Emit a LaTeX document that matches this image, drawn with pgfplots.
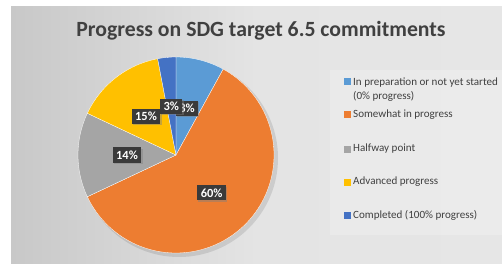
\documentclass[border=0pt]{standalone}
\usepackage{pgfplots}
\pgfplotsset{compat=1.18}
\usepackage{fontspec}
\setmainfont{Carlito}
\usetikzlibrary{shadows}
\definecolor{cA}{HTML}{5B9BD5}
\definecolor{cB}{HTML}{ED7D31}
\definecolor{cC}{HTML}{A5A5A5}
\definecolor{cD}{HTML}{FFC000}
\definecolor{cE}{HTML}{4472C4}
\definecolor{bgL}{HTML}{C8C8C8}
\definecolor{bgM}{HTML}{E4E4E4}
\definecolor{bgR}{HTML}{E6E6E6}
\definecolor{txt}{HTML}{404040}
\definecolor{lblbg}{HTML}{3A3A3A}
\tikzset{
  lbl/.style={fill=lblbg, text=white, font=\bfseries\fontsize{12.5}{14}\selectfont,
    inner xsep=3.5bp, inner ysep=3.2bp,
    drop shadow={shadow xshift=1.2bp, shadow yshift=-1.2bp, opacity=0.45}},
  leg/.style={text=txt, font=\fontsize{11.1}{13}\selectfont, anchor=west, inner sep=0pt},
}
\begin{document}
\begin{tikzpicture}[x=1bp,y=1bp]
\useasboundingbox (0,0) rectangle (502,263);
% data (percent)
\def\vA{8}\def\vB{60}\def\vC{14}\def\vD{15}\def\vE{3}
\pgfmathsetmacro{\aA}{90-3.6*\vA}
\pgfmathsetmacro{\aB}{\aA-3.6*\vB}
\pgfmathsetmacro{\aC}{\aB-3.6*\vC}
\pgfmathsetmacro{\aD}{\aC-3.6*\vD}
\pgfmathsetmacro{\aE}{\aD-3.6*\vE}
\pgfmathsetmacro{\mA}{(90+\aA)/2}
\pgfmathsetmacro{\mB}{(\aA+\aB)/2}
\pgfmathsetmacro{\mC}{(\aB+\aC)/2}
\pgfmathsetmacro{\mD}{(\aC+\aD)/2}
\pgfmathsetmacro{\mE}{(\aD+\aE)/2}
\fill[white] (0,0) rectangle (502,263);
\shade[left color=bgL, right color=bgR, middle color=bgM] (11,0) rectangle (502,256);
\fill[white, opacity=0.22] (330,28) rectangle (502,193);
\begin{axis}[
  at={(0,0)}, anchor=south west,
  scale only axis, width=502bp, height=263bp,
  xmin=0, xmax=502, ymin=0, ymax=263,
  hide axis, clip=false,
]
\fill[black, opacity=0.10] (axis cs:179,105) circle[radius=99];
\addplot[fill=cA, draw=white, line width=0.3pt, domain=\aA:90, samples=20, variable=\t]
  ({176+98*cos(\t)},{108+98*sin(\t)}) -- (axis cs:176,108) -- cycle;
\addplot[fill=cB, draw=white, line width=0.3pt, domain=\aB:\aA, samples=90, variable=\t]
  ({176+98*cos(\t)},{108+98*sin(\t)}) -- (axis cs:176,108) -- cycle;
\addplot[fill=cC, draw=white, line width=0.3pt, domain=\aC:\aB, samples=25, variable=\t]
  ({176+98*cos(\t)},{108+98*sin(\t)}) -- (axis cs:176,108) -- cycle;
\addplot[fill=cD, draw=white, line width=0.3pt, domain=\aD:\aC, samples=25, variable=\t]
  ({176+98*cos(\t)},{108+98*sin(\t)}) -- (axis cs:176,108) -- cycle;
\addplot[fill=cE, draw=white, line width=0.3pt, domain=\aE:\aD, samples=10, variable=\t]
  ({176+98*cos(\t)},{108+98*sin(\t)}) -- (axis cs:176,108) -- cycle;
% labels
\node[lbl] at (axis cs:{176+44*cos(\mA)},{108+48*sin(\mA)}) {\vA\%};
\node[lbl] at (axis cs:{176+52*cos(\mB)},{108+52*sin(\mB)}) {\vB\%};
\node[lbl] at (axis cs:{176+49*cos(\mC)},{108+49*sin(\mC)}) {\vC\%};
\node[lbl] at (axis cs:{176+49*cos(\mD)},{108+49*sin(\mD)}) {\vD\%};
\node[lbl] at (axis cs:{176+50*cos(\mE)},{108+49*sin(\mE)}) {\vE\%};
% title
\node[text=txt, font=\bfseries\fontsize{21.8}{26}\selectfont] at (axis cs:261,232) {Progress on SDG target 6.5 commitments};
% legend
\fill[cA] (axis cs:344,177.5) rectangle (axis cs:351,184.5);
\node[leg] at (axis cs:353,180) {In preparation or not yet started};
\node[leg] at (axis cs:353,167) {(0\% progress)};
\fill[cB] (axis cs:344,144.5) rectangle (axis cs:351,151.5);
\node[leg] at (axis cs:353,148) {Somewhat in progress};
\fill[cC] (axis cs:344,110.5) rectangle (axis cs:351,117.5);
\node[leg] at (axis cs:353,114) {Halfway point};
\fill[cD] (axis cs:344,77.5) rectangle (axis cs:351,84.5);
\node[leg] at (axis cs:353,81) {Advanced progress};
\fill[cE] (axis cs:344,44.5) rectangle (axis cs:351,51.5);
\node[leg] at (axis cs:353,48) {Completed (100\% progress)};
\end{axis}
\end{tikzpicture}
\end{document}
